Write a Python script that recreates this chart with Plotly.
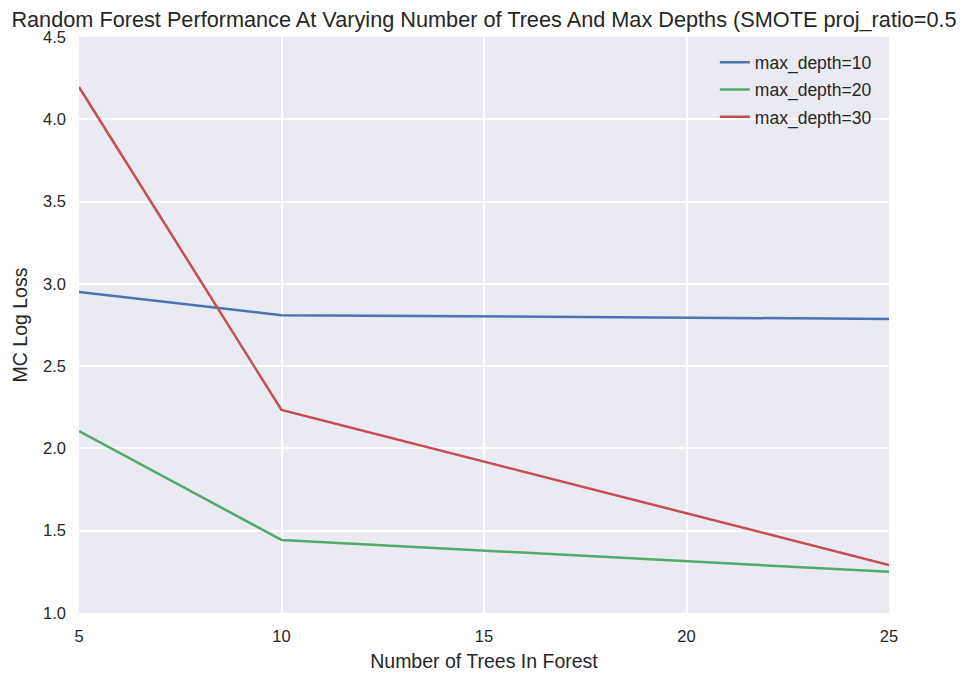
import plotly.graph_objects as go

n_trees = [5, 10, 25]
depth10 = [2.95, 2.81, 2.787]
depth20 = [2.106, 1.444, 1.25]
depth30 = [4.196, 2.234, 1.292]
series_names = ["max_depth=10", "max_depth=20", "max_depth=30"]
colors = ["#4C72B0", "#55A868", "#C44E52"]
x_ticks = [5, 10, 15, 20, 25]
y_ticks = [1.0, 1.5, 2.0, 2.5, 3.0, 3.5, 4.0, 4.5]

FONT = "Liberation Sans, Arial, sans-serif"
fig = go.Figure()
for name, ys, c in zip(series_names, [depth10, depth20, depth30], colors):
    fig.add_trace(go.Scatter(x=n_trees, y=ys, mode="lines", name=name, legendgroup=name,
                             line=dict(color=c, width=2.5)))

# page body has an 8px margin, so the figure is 956x666
fig.update_layout(
    width=956, height=666,
    margin=dict(l=71, r=75, t=29, b=61),
    paper_bgcolor="white", plot_bgcolor="#EAEAF2",
    font=dict(family=FONT, color="#262626", size=16),
    title=dict(text="Random Forest Performance At Varying Number of Trees And Max Depths (SMOTE proj_ratio=0.5",
               x=0.5, xref="paper", xanchor="center", y=1, yref="container", yanchor="top",
               pad=dict(t=4), font=dict(size=21.7, color="#262626")),
    showlegend=True,
    legend=dict(x=0.785, y=0.987, xanchor="left", yanchor="top", bgcolor="rgba(0,0,0,0)",
                font=dict(size=17.5), tracegroupgap=1.5),
    xaxis=dict(range=[5, 25], tickvals=x_ticks, ticktext=[str(v) for v in x_ticks],
               showgrid=True, gridcolor="white", gridwidth=1.5, zeroline=False, automargin=False,
               showline=False, ticks="", tickfont=dict(size=16.5), ticklabelstandoff=11,
               title=dict(text="Number of Trees In Forest", font=dict(size=19.5), standoff=10)),
    yaxis=dict(range=[1, 4.5], tickvals=y_ticks, ticktext=[f"{v:.1f}" for v in y_ticks],
               showgrid=True, gridcolor="white", gridwidth=1.5, zeroline=False, automargin=False,
               showline=False, ticks="", tickfont=dict(size=16.5), ticklabelstandoff=12,
               title=dict(text="MC Log Loss", font=dict(size=19.5), standoff=10)),
)
fig.write_html("out.html")
